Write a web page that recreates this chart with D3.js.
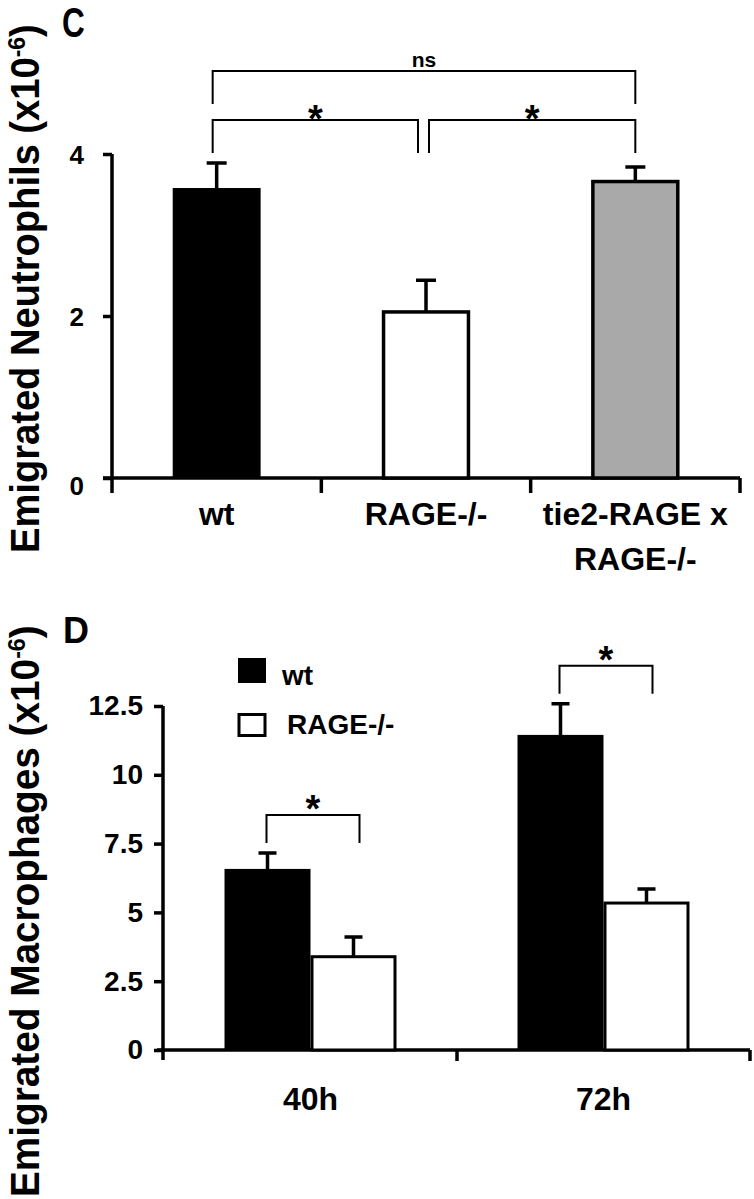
<!DOCTYPE html>
<meta charset="utf-8">
<head>
<style>
  body { margin: 0; background: #fff; }
  text { font-family: "Liberation Sans", Arial, sans-serif; font-weight: bold; fill: #000; }
  .axis path, .axis line { stroke: #000; stroke-width: 3.5; }
  .bracket { fill: none; stroke: #000; stroke-width: 2; }
  .err { stroke: #000; stroke-width: 3.5; }
</style>
</head>
<body>
<script src="https://d3js.org/d3.v7.min.js"></script>
<script>
// ---- panel C data
var catsC = ["wt", "RAGE-/-", "tie2-RAGE x\nRAGE-/-"];
var valsC = [3.58, 2.05, 3.66];
var errsC = [0.31, 0.39, 0.18];
var fillsC = ["#000", "#fff", "#a9a9a9"];
var ticksC = [0, 2, 4];
var sigC = [[0, 2, "ns"], [0, 1, "*"], [1, 2, "*"]];

// ---- panel D data
var timesD = ["40h", "72h"];
var groupsD = ["wt", "RAGE-/-"];
var wtD = [6.58, 11.45];
var rageD = [3.39, 5.34];
var wtErrD = [0.58, 1.13];
var rageErrD = [0.72, 0.51];
var ticksD = [0, 2.5, 5, 7.5, 10, 12.5];
var sigD = ["*", "*"];

var svg = d3.select("body").append("svg")
    .attr("width", 754)
    .attr("height", 1199);

// rotated axis title, squeezed a bit along its length like the scanned figure
function yLabel(x, y, size, sx, txt) {
    var t = svg.append("text")
        .attr("transform", "translate(" + x + "," + y + ") rotate(-90) scale(" + sx + ",1)")
        .attr("font-size", size);
    t.append("tspan").text(txt + " (x10");
    t.append("tspan").attr("font-size", size * 0.6).attr("dy", -size * 0.33).text("-6");
    t.append("tspan").attr("dy", size * 0.33).text(")");
}

// ================= panel C =================
var yC = d3.scaleLinear().domain([0, 4]).range([478, 154]);
var xC = d3.scaleBand().domain(catsC).range([112, 740])
    .paddingInner(0.58).paddingOuter(0.29);

svg.append("text").attr("transform", "translate(62,37) scale(0.75,1)")
    .attr("font-size", 42).text("C");
yLabel(39, 553, 41, 0.93, "Emigrated Neutrophils");

var gyC = svg.append("g").attr("class", "axis")
    .attr("transform", "translate(112,0)")
    .call(d3.axisLeft(yC).tickValues(ticksC).tickFormat(function (d) { return d; })
        .tickSize(9).tickPadding(19));
gyC.select(".domain").remove();
gyC.selectAll("text").attr("font-size", 26)
    .attr("dy", function (d) { return d === 0 ? "0.62em" : "0.36em"; });
gyC.append("line").attr("y1", yC(4)).attr("y2", yC(0) + 15);

var gxC = svg.append("g").attr("class", "axis")
    .attr("transform", "translate(0," + yC(0) + ")")
    .call(d3.axisBottom(xC).tickSize(0).tickPadding(0));
gxC.select(".domain").remove();
gxC.append("line").attr("x1", 103).attr("x2", 740);
gxC.selectAll(".tick text").attr("font-size", 32).attr("dy", 0)
    .each(function (d) {
        var el = d3.select(this), lines = d.split("\n");
        el.text(null);
        lines.forEach(function (s, i) {
            el.append("tspan").attr("x", 0).attr("y", 47 + i * 45).text(s);
        });
    });
var stepC = xC.step();
gxC.selectAll(".bnd").data(catsC).enter().append("line")
    .attr("x1", function (d, i) { return 112 + (i + 1) * stepC; })
    .attr("x2", function (d, i) { return 112 + (i + 1) * stepC; })
    .attr("y1", 0).attr("y2", 15);

var cxC = function (i) { return xC(catsC[i]) + xC.bandwidth() / 2; };

svg.selectAll(".barC").data(valsC).enter().append("rect")
    .attr("x", function (d, i) { return xC(catsC[i]) + (i ? 1.5 : 0); })
    .attr("width", function (d, i) { return xC.bandwidth() - (i ? 3 : 0); })
    .attr("y", function (d) { return yC(d); })
    .attr("height", function (d) { return yC(0) - yC(d); })
    .attr("fill", function (d, i) { return fillsC[i]; })
    .attr("stroke", "#000")
    .attr("stroke-width", function (d, i) { return i ? 3.5 : 0; });

svg.selectAll(".errC").data(valsC).enter().append("path")
    .attr("class", "err").attr("fill", "none")
    .attr("d", function (d, i) {
        var x = cxC(i), y0 = yC(d), y1 = yC(d + errsC[i]);
        return "M" + x + "," + y0 + "V" + y1 + "M" + (x - 10) + "," + y1 + "H" + (x + 10);
    });

// brackets C
var topC = d3.min(valsC.map(function (v, i) { return yC(v + errsC[i]); })) - 10;
sigC.forEach(function (s) {
    var ns = s[2] === "ns";
    var x1 = cxC(s[0]) - 4, x2 = cxC(s[1]);
    if (!ns && s[1] === 1) x2 -= 8;
    if (!ns && s[0] === 1) x1 += 7;
    var yb = ns ? topC - 49 : topC, yt = yb - 33;
    svg.append("path").attr("class", "bracket")
        .attr("d", "M" + x1 + "," + yb + "V" + yt + "H" + x2 + "V" + yb);
    svg.append("text").attr("x", (x1 + x2) / 2).attr("text-anchor", "middle")
        .attr("y", ns ? yt - 4 : yt + 12)
        .attr("font-size", ns ? 21 : 38).text(s[2]);
});

// ================= panel D =================
var yD = d3.scaleLinear().domain([0, 12.5]).range([1050, 706]);
var xD = d3.scaleBand().domain(timesD).range([164, 750])
    .paddingInner(0.413).paddingOuter(0.2065);
var xSub = d3.scaleBand().domain(groupsD).range([0, xD.bandwidth()]);

svg.append("text").attr("x", 63).attr("y", 643).attr("font-size", 36).text("D");
yLabel(39, 1197, 41, 0.945, "Emigrated Macrophages");

var gyD = svg.append("g").attr("class", "axis")
    .attr("transform", "translate(163,0)")
    .call(d3.axisLeft(yD).tickValues(ticksD).tickFormat(function (d) { return d; })
        .tickSize(9).tickPadding(11));
gyD.select(".domain").remove();
gyD.selectAll("text").attr("font-size", 28);
gyD.append("line").attr("y1", yD(12.5)).attr("y2", yD(0) + 10);

var gxD = svg.append("g").attr("class", "axis")
    .attr("transform", "translate(0," + yD(0) + ")")
    .call(d3.axisBottom(xD).tickSize(0).tickPadding(0));
gxD.select(".domain").remove();
gxD.append("line").attr("x1", 157).attr("x2", 750);
gxD.selectAll(".tick text").attr("font-size", 32).attr("dy", 0).attr("y", 60);
var stepD = xD.step();
gxD.selectAll(".bnd").data(timesD).enter().append("line")
    .attr("x1", function (d, i) { return 164 + (i + 1) * stepD; })
    .attr("x2", function (d, i) { return 164 + (i + 1) * stepD; })
    .attr("y1", 0).attr("y2", 11);

var seriesD = [
    { key: groupsD[0], vals: wtD, errs: wtErrD, fill: "#000" },
    { key: groupsD[1], vals: rageD, errs: rageErrD, fill: "#fff" }
];

seriesD.forEach(function (s) {
    var sw = s.fill === "#fff" ? 3 : 0;
    svg.selectAll(null).data(s.vals).enter().append("rect")
        .attr("x", function (d, i) { return xD(timesD[i]) + xSub(s.key) + sw / 2; })
        .attr("width", xSub.bandwidth() - sw)
        .attr("y", function (d) { return yD(d); })
        .attr("height", function (d) { return yD(0) - yD(d); })
        .attr("fill", s.fill).attr("stroke", "#000").attr("stroke-width", sw);
    svg.selectAll(null).data(s.vals).enter().append("path")
        .attr("class", "err").attr("fill", "none")
        .attr("d", function (d, i) {
            var x = xD(timesD[i]) + xSub(s.key) + xSub.bandwidth() / 2;
            var y0 = yD(d), y1 = yD(d + s.errs[i]);
            return "M" + x + "," + y0 + "V" + y1 + "M" + (x - 9) + "," + y1 + "H" + (x + 9);
        });
});

// brackets D
sigD.forEach(function (lab, i) {
    var x1 = xD(timesD[i]) + xSub(groupsD[0]) + xSub.bandwidth() / 2 - 1;
    var x2 = xD(timesD[i]) + xSub(groupsD[1]) + xSub.bandwidth() / 2 + 6;
    var yb = Math.min(yD(wtD[i] + wtErrD[i]), yD(rageD[i] + rageErrD[i])) - 10;
    var yt = yb - 28;
    svg.append("path").attr("class", "bracket")
        .attr("d", "M" + x1 + "," + yb + "V" + yt + "H" + x2 + "V" + yb);
    svg.append("text").attr("x", (x1 + x2) / 2).attr("text-anchor", "middle")
        .attr("y", yt + 7).attr("font-size", 38).text(lab);
});

// legend D
var leg = svg.selectAll(".leg").data(seriesD).enter().append("g")
    .attr("transform", function (d, i) { return "translate(238," + (658 + i * 55) + ")"; });
leg.append("rect")
    .attr("x", function (d) { return d.fill === "#fff" ? 1 : 0; })
    .attr("y", function (d) { return d.fill === "#fff" ? 1.5 : 0; })
    .attr("width", function (d) { return d.fill === "#fff" ? 26 : 28; })
    .attr("height", function (d) { return d.fill === "#fff" ? 21 : 25; })
    .attr("fill", function (d) { return d.fill; })
    .attr("stroke", "#000").attr("stroke-width", function (d) { return d.fill === "#fff" ? 3 : 0; });
leg.append("text").attr("x", function (d, i) { return i ? 49 : 44; }).attr("y", function (d, i) { return i ? 21 : 27; })
    .attr("font-size", 28).text(function (d) { return d.key; });
</script>
</body>
